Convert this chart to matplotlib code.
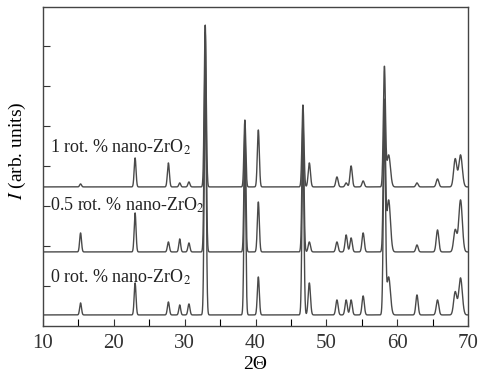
import numpy as np
import matplotlib.pyplot as plt

plt.rcParams['font.family'] = 'Liberation Serif'
plt.rcParams['mathtext.fontset'] = 'stix'

# peak positions (2Theta) and heights (arb. units) for each sample
pos = [15.3, 23.0, 27.7, 29.3, 30.6, 32.9, 38.5, 40.4, 46.7, 47.6,
       51.5, 52.8, 53.5, 55.2, 58.2, 58.8, 62.8, 65.7, 68.2, 68.95]
wid = [0.13, 0.13, 0.14, 0.13, 0.14, 0.14, 0.13, 0.14, 0.14, 0.16,
       0.16, 0.16, 0.16, 0.16, 0.15, 0.25, 0.16, 0.18, 0.22, 0.25]
h_0 = [12, 32, 13, 10, 11, 250, 160, 38, 170, 32, 15, 15, 15, 19, 190, 38, 20, 15, 23, 37]
h_05 = [19, 39, 10, 13, 9, 220, 120, 50, 130, 10, 10, 17, 14, 19, 150, 52, 7, 22, 22, 52]
h_1 = [3, 29, 24, 4, 5, 162, 67, 57, 82, 24, 10, 4, 21, 6, 119, 32, 4, 8, 28, 32]

offsets = [11, 74, 139]
labels = ["0 rot. % nano-ZrO$_2$", "0.5 rot. % nano-ZrO$_2$", "1 rot. % nano-ZrO$_2$"]
label_y = [49, 121, 179]

x = np.linspace(10, 70, 3000)

def pattern(heights):
    y = np.zeros_like(x)
    for p, w, h in zip(pos, wid, heights):
        y += h * np.exp(-0.5 * ((x - p) / w) ** 2)
    return y

fig = plt.figure(figsize=(4.89, 3.83), dpi=100)
ax = fig.add_axes([0.088, 0.149, 0.869, 0.833])

for hs, off in zip([h_0, h_05, h_1], offsets):
    ax.plot(x, pattern(hs) + off, color='#4a4a4a', lw=1.0)

for lab, ly in zip(labels, label_y):
    ax.text(11.0, ly, lab, fontsize=13, va='center', ha='left', color='#222222')

ax.set_xlim(10, 70)
ax.set_ylim(0, 319)
ax.set_xticks(range(10, 71, 10))
ax.set_xticks(range(15, 70, 5), minor=True)
ax.set_yticks(range(40, 300, 40))
ax.set_yticklabels([])
ax.tick_params(direction='in', length=5, width=0.8, labelsize=15, colors='#333333')
ax.tick_params(which='minor', direction='in', length=5, width=0.8)
ax.tick_params(axis='x', pad=6)
for s in ax.spines.values():
    s.set_color('#444444')
    s.set_linewidth(1.0)

ax.set_xlabel("2\u0398", fontsize=14, labelpad=2)
ax.set_ylabel("$I$ (arb. units)", fontsize=14)
ax.yaxis.set_label_coords(-0.035, 0.55)

fig.savefig("out.png", dpi=100)
